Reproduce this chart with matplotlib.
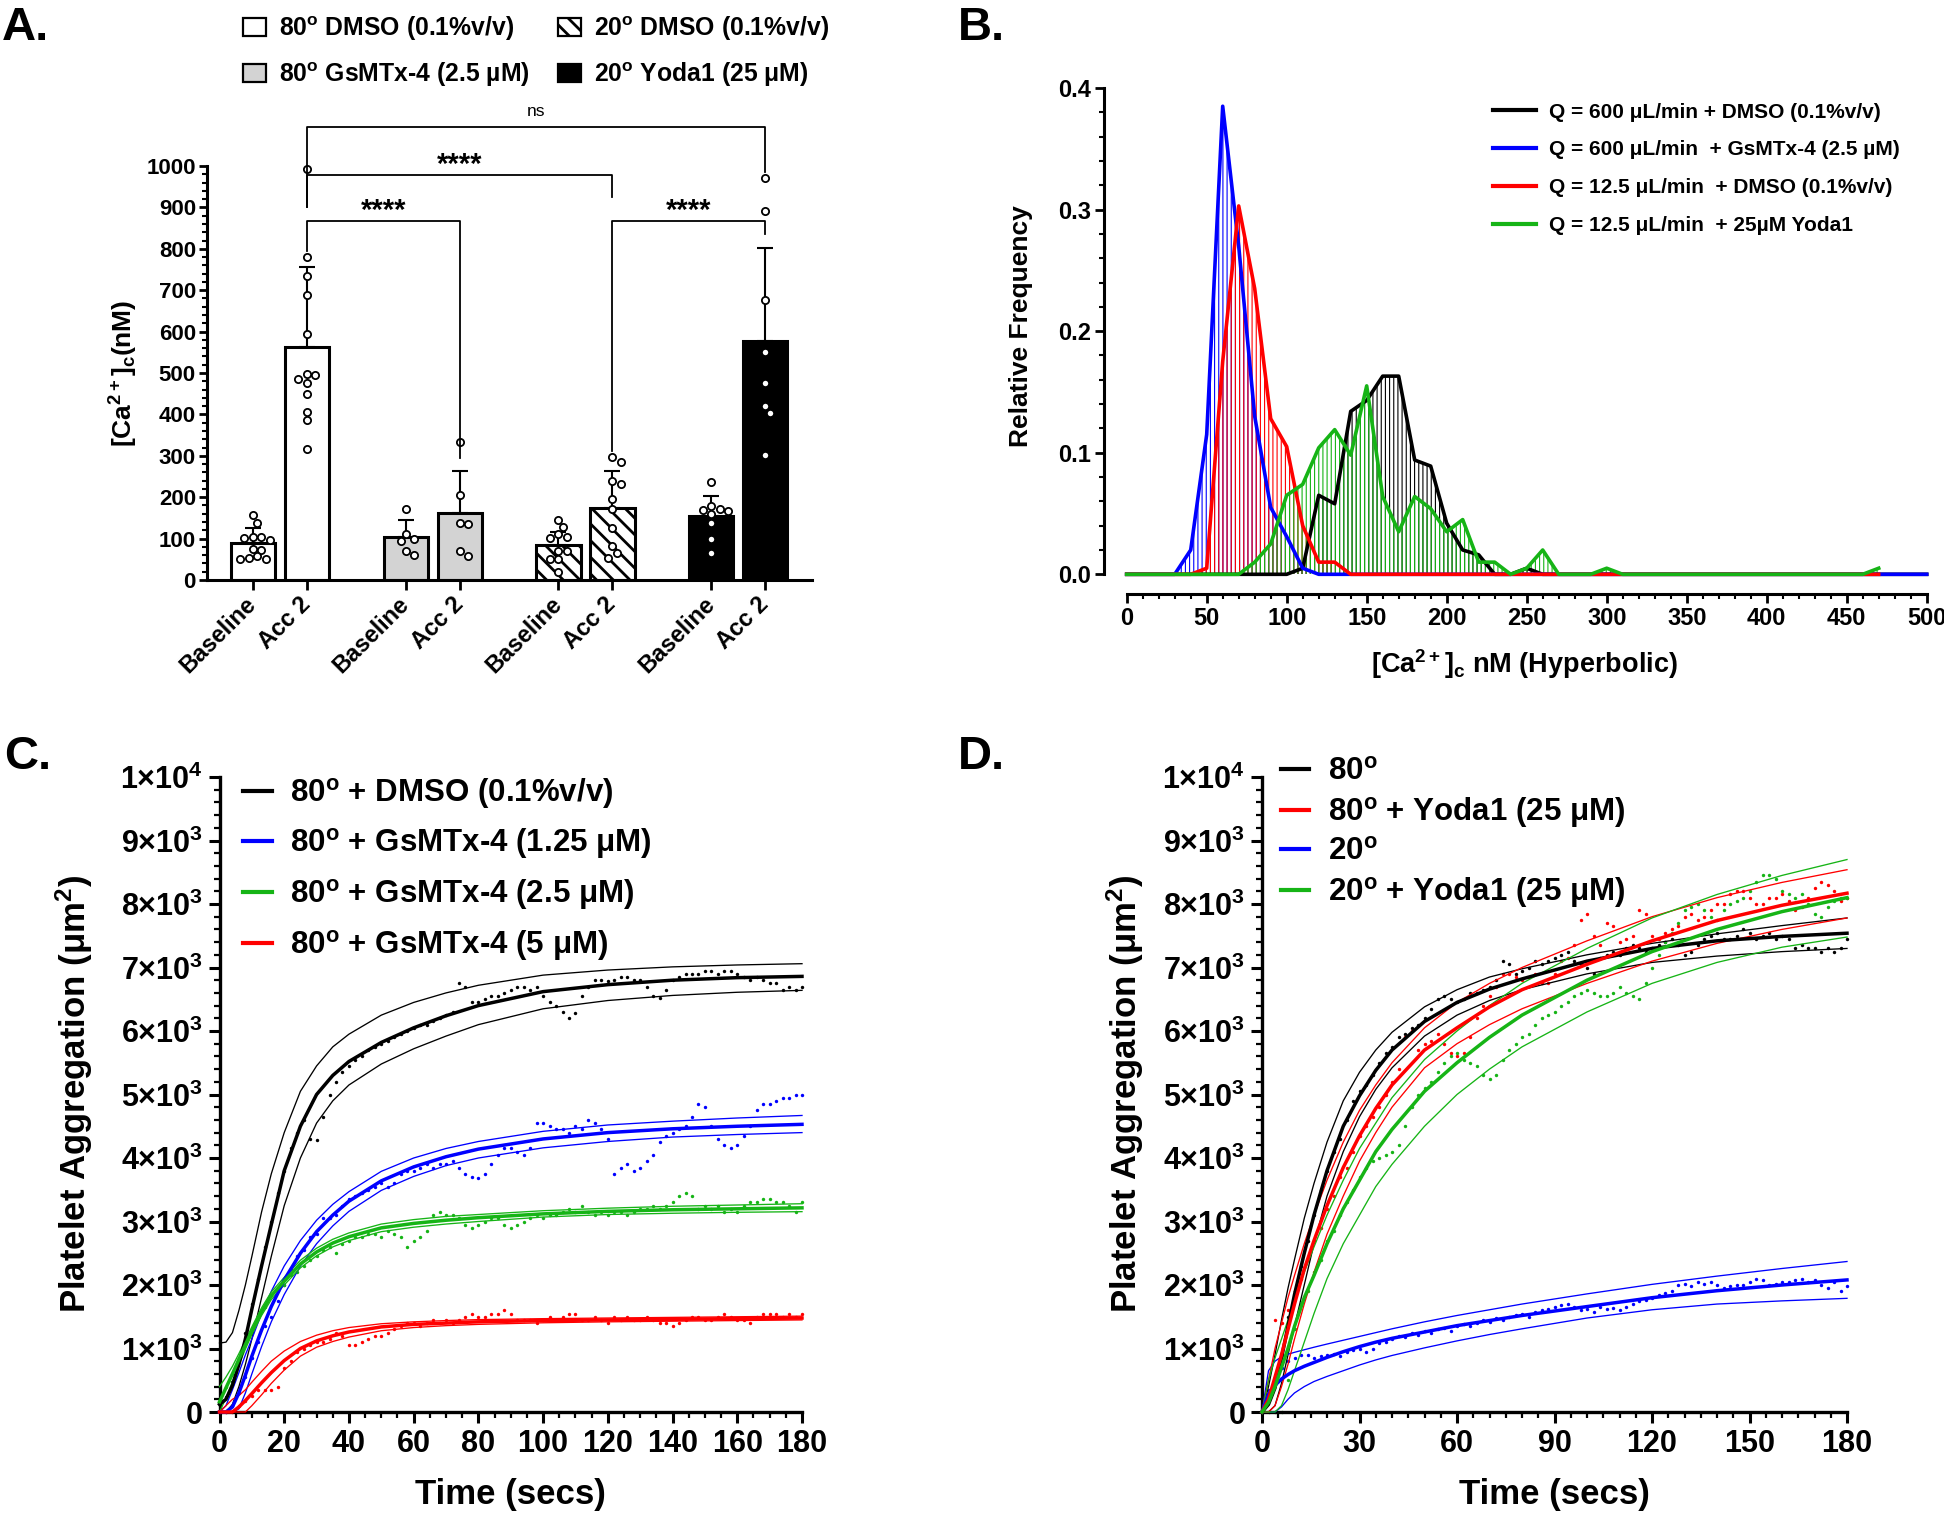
import numpy as np
import matplotlib
matplotlib.use("Agg")
import matplotlib.pyplot as plt
from matplotlib.patches import Patch
from matplotlib.lines import Line2D
from matplotlib.ticker import MultipleLocator, FuncFormatter, FormatStrFormatter

plt.rcParams["font.family"] = ["Liberation Sans", "DejaVu Sans"]
plt.rcParams["font.weight"] = "bold"
plt.rcParams["axes.labelweight"] = "bold"
plt.rcParams["mathtext.fontset"] = "custom"
plt.rcParams["mathtext.rm"] = "Liberation Sans:bold"
plt.rcParams["mathtext.bf"] = "Liberation Sans:bold"
plt.rcParams["mathtext.it"] = "Liberation Sans:bold:italic"
plt.rcParams["mathtext.default"] = "regular"

# ---------------- panel A data ----------------
conditions = ["Baseline", "Acc 2"]
bar_means = [90, 563, 103, 162, 85, 173, 155, 577]
bar_sd = [35, 192, 42, 101, 30, 91, 48, 226]
points_a = [
    [156, 138, 96, 101, 105, 105, 75, 73, 57, 51, 51, 53],
    [993, 779, 735, 688, 593, 496, 498, 486, 476, 449, 407, 387, 316],
    [172, 112, 100, 95, 60, 70],
    [334, 205, 136, 138, 59, 70],
    [146, 129, 105, 111, 102, 71, 69, 51, 51, 19],
    [298, 284, 239, 231, 195, 171, 126, 83, 66, 54],
    [236, 171, 169, 179, 167, 159, 138, 98, 66],
    [970, 891, 676, 550, 477, 420, 404, 303],
]
legend_a = ["80$^{o}$ DMSO (0.1%v/v)", "80$^{o}$ GsMTx-4 (2.5 µM)",
            "20$^{o}$ DMSO (0.1%v/v)", "20$^{o}$ Yoda1 (25 μM)"]
bracket_pairs = [(1, 7), (1, 5), (1, 3), (5, 7)]
bracket_y = [1094, 979, 867, 867]
bracket_ends = [(900, 985), (900, 925), (795, 294), (311, 835)]
bracket_text = ["ns", "****", "****", "****"]

# ---------------- panel B data ----------------
ca_bins = list(range(0, 510, 10))
freq_black = [0, 0, 0, 0, 0, 0, 0, 0, 0, 0, 0, 0.005, 0.065, 0.058, 0.134, 0.143,
              0.163, 0.163, 0.094, 0.089, 0.042, 0.020, 0.016, 0, 0, 0.005, 0,
              0, 0, 0, 0, 0, 0, 0, 0, 0, 0, 0, 0, 0, 0, 0, 0, 0, 0, 0, 0, 0, 0, 0, 0]
freq_blue = [0, 0, 0, 0, 0.020, 0.115, 0.385, 0.270, 0.130, 0.055, 0.031, 0.005, 0,
             0, 0, 0, 0, 0, 0, 0, 0, 0, 0, 0, 0, 0, 0, 0, 0, 0, 0, 0, 0, 0, 0, 0,
             0, 0, 0, 0, 0, 0, 0, 0, 0, 0, 0, 0, 0, 0, 0]
freq_red = [0, 0, 0, 0, 0, 0.005, 0.175, 0.303, 0.235, 0.128, 0.105, 0.040, 0.010,
            0.010, 0, 0, 0, 0, 0, 0, 0, 0, 0, 0, 0, 0, 0, 0, 0, 0, 0, 0, 0, 0, 0,
            0, 0, 0, 0, 0, 0, 0, 0, 0, 0, 0, 0, 0]
freq_green = [0, 0, 0, 0, 0, 0, 0, 0, 0.010, 0.025, 0.065, 0.074, 0.104, 0.119, 0.098,
              0.155, 0.064, 0.035, 0.064, 0.054, 0.035, 0.045, 0.010, 0.010, 0, 0.005,
              0.020, 0, 0, 0, 0.005, 0, 0, 0, 0, 0, 0, 0, 0, 0, 0, 0, 0, 0, 0, 0, 0, 0.005]
legend_b = ["Q = 600 μL/min + DMSO (0.1%v/v)", "Q = 600 μL/min  + GsMTx-4 (2.5 µM)",
            "Q = 12.5 μL/min  + DMSO (0.1%v/v)", "Q = 12.5 μL/min  + 25µM Yoda1"]

# ---------------- panels C / D data ----------------
TS = np.arange(0, 181, 2)
TF = [0, 2, 4, 6, 8, 10, 13, 16, 20, 25, 30, 35, 40, 50, 60, 70, 80, 100, 120, 140, 160, 180]

c_pts_black = [120, 230, 480, 850, 1250, 1700, 2100, 2600, 3000, 3450,
               3800, 4150, 4400, 4600, 4300, 4280, 4650, 5000, 5200, 5350,
               5450, 5550, 5600, 5700, 5750, 5800, 5850, 5900, 5950, 6000,
               6050, 6100, 6100, 6150, 6200, 6250, 6300, 6750, 6700, 6450,
               6450, 6500, 6550, 6550, 6600, 6650, 6700, 6700, 6650, 6700,
               6550, 6450, 6400, 6300, 6200, 6280, 6550, 6700, 6800, 6800,
               6780, 6800, 6850, 6850, 6800, 6800, 6700, 6550, 6520, 6650,
               6800, 6850, 6900, 6900, 6900, 6950, 6950, 6900, 6950, 6950,
               6900, 6850, 6800, 6850, 6800, 6750, 6750, 6650, 6700, 6650, 6700]
c_pts_blue = [0, 0, 100, 300, 550, 850, 1100, 1350, 1500, 1750,
              2000, 2250, 2450, 2550, 2750, 2800, 3050, 3050, 3100, 3250,
              3350, 3400, 3450, 3500, 3550, 3600, 3550, 3600, 3750, 3800,
              3800, 3850, 3900, 3850, 3900, 3900, 3950, 3850, 3750, 3700,
              3680, 3750, 3900, 4050, 4150, 4150, 4100, 4050, 4150, 4550,
              4550, 4500, 4450, 4450, 4400, 4500, 4450, 4600, 4550, 4450,
              4300, 3750, 3850, 3900, 3800, 3850, 3950, 4050, 4250, 4350,
              4400, 4450, 4500, 4650, 4850, 4800, 4500, 4300, 4200, 4150,
              4200, 4350, 4500, 4750, 4850, 4850, 4900, 4950, 4950, 5000, 5000]
c_pts_green = [200, 400, 600, 850, 1100, 1250, 1500, 1650, 1850, 1900,
               2000, 2150, 2200, 2300, 2400, 2450, 2550, 2600, 2500, 2650,
               2700, 2750, 2750, 2800, 2800, 2750, 2850, 2800, 2750, 2600,
               2700, 2750, 2850, 3100, 3150, 3100, 3100, 3050, 2950, 2900,
               2950, 3000, 3050, 3050, 2950, 2900, 2950, 3000, 3050, 3100,
               3050, 3100, 3100, 3150, 3200, 3150, 3250, 3150, 3100, 3150,
               3100, 3150, 3150, 3100, 3150, 3200, 3200, 3250, 3200, 3250,
               3300, 3400, 3450, 3400, 3200, 3250, 3200, 3250, 3150, 3200,
               3150, 3250, 3300, 3300, 3350, 3350, 3300, 3300, 3250, 3150, 3300]
c_pts_red = [0, 0, 0, 100, 180, 250, 350, 350, 350, 400,
             700, 800, 950, 1000, 1050, 1100, 1100, 1150, 1250, 1200,
             1050, 1050, 1100, 1150, 1200, 1200, 1250, 1300, 1350, 1400,
             1400, 1350, 1400, 1450, 1400, 1450, 1400, 1450, 1500, 1550,
             1500, 1500, 1550, 1550, 1600, 1550, 1450, 1450, 1450, 1400,
             1450, 1500, 1450, 1500, 1550, 1550, 1450, 1450, 1500, 1450,
             1400, 1500, 1450, 1500, 1450, 1450, 1500, 1450, 1400, 1400,
             1350, 1400, 1450, 1500, 1500, 1450, 1450, 1500, 1550, 1500,
             1450, 1450, 1400, 1500, 1550, 1550, 1550, 1500, 1550, 1500, 1550]

c_fit_black = [120, 200, 420, 750, 1150, 1620, 2300, 2950, 3800, 4500, 5000, 5300, 5520, 5820, 6050, 6240, 6400, 6620, 6730, 6800, 6840, 6860]
c_up_black = [1085, 1100, 1250, 1600, 2000, 2450, 3150, 3750, 4400, 5050, 5450, 5750, 5950, 6250, 6450, 6600, 6720, 6880, 6960, 7010, 7040, 7060]
c_lo_black = [0, 0, 120, 400, 750, 1150, 1800, 2450, 3250, 4000, 4550, 4900, 5150, 5480, 5720, 5920, 6100, 6350, 6480, 6560, 6610, 6640]
c_fit_blue = [0, 0, 80, 300, 580, 880, 1290, 1660, 2080, 2500, 2840, 3100, 3320, 3640, 3860, 4020, 4140, 4300, 4400, 4460, 4500, 4530]
c_up_blue = [0, 100, 350, 620, 900, 1150, 1550, 1900, 2300, 2700, 3020, 3270, 3470, 3790, 4000, 4150, 4260, 4420, 4520, 4580, 4630, 4670]
c_lo_blue = [0, 0, 0, 50, 300, 600, 1030, 1420, 1850, 2300, 2650, 2930, 3160, 3490, 3710, 3880, 4000, 4160, 4260, 4330, 4370, 4400]
c_fit_green = [160, 380, 600, 830, 1060, 1280, 1580, 1830, 2060, 2330, 2520, 2660, 2760, 2900, 2970, 3020, 3060, 3120, 3160, 3185, 3200, 3215]
c_up_green = [400, 550, 720, 920, 1130, 1340, 1640, 1890, 2120, 2390, 2580, 2720, 2820, 2960, 3030, 3080, 3110, 3170, 3210, 3240, 3260, 3280]
c_lo_green = [0, 220, 480, 740, 990, 1220, 1520, 1770, 2000, 2270, 2460, 2600, 2700, 2840, 2910, 2960, 3000, 3070, 3110, 3130, 3145, 3155]
c_fit_red = [0, 0, 0, 80, 180, 290, 460, 620, 810, 1000, 1120, 1200, 1260, 1340, 1380, 1400, 1420, 1440, 1450, 1460, 1470, 1480]
c_up_red = [0, 100, 200, 260, 350, 470, 640, 800, 960, 1110, 1210, 1280, 1330, 1390, 1420, 1440, 1455, 1470, 1480, 1490, 1500, 1510]
c_lo_red = [0, 0, 0, 0, 0, 100, 270, 450, 660, 880, 1020, 1110, 1180, 1280, 1330, 1360, 1380, 1405, 1420, 1430, 1440, 1450]

d_pts_black = [0, 200, 500, 900, 1500, 1900, 2300, 2700, 3100, 3500,
               3800, 4100, 4300, 4600, 4900, 5050, 5150, 5300, 5500, 5650,
               5750, 5900, 5950, 6050, 6100, 6200, 6350, 6500, 6550, 6500,
               6450, 6500, 6600, 6600, 6650, 6700, 6800, 7100, 7050, 6900,
               6950, 7000, 7100, 7050, 7100, 7150, 7200, 7250, 7100, 7050,
               7000, 6900, 7150, 7200, 7250, 7200, 7300, 7350, 7300, 7250,
               7300, 7350, 7400, 7450, 7350, 7200, 7250, 7350, 7450, 7500,
               7550, 7450, 7450, 7500, 7600, 7550, 7450, 7500, 7550, 7450,
               7500, 7450, 7300, 7350, 7300, 7300, 7250, 7300, 7250, 7300, 7450]
d_pts_red = [0, 300, 1450, 1400, 1600, 1900, 2100, 2400, 2700, 2900,
             3200, 3400, 3700, 3850, 4100, 4350, 4500, 4650, 4800, 5000,
             5200, 5400, 5900, 6000, 5700, 5800, 5850, 5950, 5800, 5650,
             5600, 5650, 5900, 6200, 6400, 6550, 6700, 6900, 6900, 6850,
             6800, 6850, 6900, 6750, 6750, 6900, 7100, 7150, 7350, 7750,
             7850, 7500, 7350, 7700, 7650, 7400, 7450, 7500, 7900, 7850,
             7500, 7450, 7550, 7600, 7650, 7800, 7850, 7750, 7800, 7900,
             8000, 8000, 8150, 8200, 8200, 8100, 8000, 8000, 8100, 8100,
             8150, 8050, 7900, 7950, 8100, 8250, 8350, 8300, 8200, 8050, 8100]
d_pts_blue = [0, 350, 500, 700, 800, 850, 900, 900, 850, 880,
              900, 920, 880, 950, 980, 1000, 950, 1000, 1080, 1100,
              1150, 1200, 1180, 1250, 1220, 1280, 1250, 1300, 1320, 1280,
              1350, 1380, 1350, 1400, 1450, 1420, 1480, 1450, 1500, 1520,
              1550, 1500, 1580, 1600, 1620, 1650, 1680, 1700, 1650, 1600,
              1620, 1580, 1650, 1620, 1640, 1600, 1650, 1700, 1750, 1760,
              1800, 1850, 1880, 1900, 2000, 2020, 1980, 2050, 2020, 2050,
              2000, 1950, 1980, 2000, 2000, 2050, 2100, 2080, 2000, 2020,
              2050, 2050, 2080, 2100, 2050, 2080, 2000, 1950, 2050, 1900, 1980]
d_pts_green = [0, 0, 0, 0, 500, 1300, 1700, 1900, 2200, 2400,
               2700, 2850, 3100, 3300, 3500, 3700, 3850, 3950, 4000, 4050,
               4100, 4200, 4500, 4800, 5000, 5100, 5200, 5350, 5500, 5600,
               5650, 5550, 5500, 5450, 5300, 5250, 5300, 5550, 5700, 5800,
               5900, 5950, 6100, 6200, 6250, 6300, 6400, 6450, 6550, 6600,
               6650, 6600, 6550, 6550, 6600, 6700, 6600, 6550, 6500, 6750,
               7000, 7200, 7400, 7550, 7700, 7900, 7950, 8000, 7900, 7800,
               7750, 7900, 8000, 8050, 8100, 8200, 8350, 8450, 8450, 8400,
               8200, 8150, 8100, 8150, 8000, 7850, 7800, 7950, 8050, 8100, 8100]

d_fit_black = [0, 120, 380, 850, 1350, 1850, 2500, 3100, 3800, 4500, 4980, 5380, 5700, 6150, 6450, 6660, 6820, 7100, 7300, 7420, 7490, 7540]
d_up_black = [0, 400, 900, 1450, 1950, 2400, 3050, 3600, 4250, 4900, 5350, 5700, 5980, 6380, 6650, 6850, 6980, 7200, 7380, 7530, 7660, 7780]
d_lo_black = [0, 0, 100, 450, 900, 1350, 2000, 2650, 3400, 4100, 4650, 5080, 5420, 5920, 6250, 6480, 6650, 6900, 7080, 7180, 7250, 7300]
d_fit_red = [0, 200, 550, 900, 1300, 1700, 2250, 2700, 3250, 3850, 4350, 4780, 5150, 5700, 6050, 6380, 6650, 7050, 7420, 7740, 7980, 8170]
d_up_red = [0, 500, 1000, 1400, 1800, 2150, 2650, 3100, 3650, 4250, 4750, 5150, 5500, 6050, 6450, 6750, 7000, 7420, 7800, 8100, 8340, 8540]
d_lo_red = [0, 0, 100, 400, 750, 1150, 1700, 2200, 2800, 3400, 3950, 4400, 4800, 5420, 5800, 6100, 6350, 6750, 7100, 7380, 7600, 7780]
d_fit_green = [0, 150, 400, 700, 1000, 1350, 1800, 2150, 2650, 3200, 3650, 4100, 4450, 5050, 5500, 5900, 6250, 6800, 7250, 7600, 7880, 8100]
d_up_green = [0, 500, 850, 1150, 1450, 1750, 2200, 2600, 3100, 3650, 4150, 4550, 4950, 5550, 6000, 6400, 6750, 7300, 7780, 8150, 8450, 8700]
d_lo_green = [0, 0, 0, 100, 350, 650, 1100, 1550, 2100, 2650, 3100, 3550, 3900, 4500, 5000, 5400, 5750, 6300, 6750, 7080, 7320, 7480]
d_fit_blue = [0, 280, 420, 520, 590, 650, 720, 780, 860, 950, 1030, 1100, 1160, 1260, 1360, 1440, 1520, 1660, 1800, 1910, 2000, 2080]
d_up_blue = [0, 650, 800, 870, 910, 940, 980, 1020, 1070, 1130, 1190, 1250, 1310, 1420, 1520, 1610, 1700, 1860, 2010, 2140, 2260, 2370]
d_lo_blue = [0, 0, 0, 80, 200, 300, 400, 480, 560, 650, 740, 820, 890, 1010, 1120, 1220, 1310, 1480, 1610, 1700, 1750, 1790]

legend_c = ["80$^{o}$ + DMSO (0.1%v/v)", "80$^{o}$ + GsMTx-4 (1.25 μM)",
            "80$^{o}$ + GsMTx-4 (2.5 μM)", "80$^{o}$ + GsMTx-4 (5 μM)"]
legend_d = ["80$^{o}$", "80$^{o}$ + Yoda1 (25 μM)", "20$^{o}$", "20$^{o}$ + Yoda1 (25 μM)"]

BLACK, BLUE, RED, GREEN = "#000000", "#0000ff", "#ff0000", "#16b416"

# ---------------- figure ----------------
W, H = 1944, 1523
fig = plt.figure(figsize=(W / 100, H / 100), dpi=100)


def box(l, r, t, b):
    return [l / W, 1 - b / H, (r - l) / W, (b - t) / H]


def hatch_lw(artist, lw):
    if hasattr(artist, "set_hatch_linewidth"):
        artist.set_hatch_linewidth(lw)


def swarm(vals, ux=54.0, uy=0.414, diam=7.8):
    order = np.argsort(vals)[::-1]
    placed, offs = [], np.zeros(len(vals))
    for i in order:
        y = vals[i] * uy
        k = 0
        while True:
            cands = [0.0] if k == 0 else [k * diam * 0.55, -k * diam * 0.55]
            ok = None
            for c in cands:
                if all((c - px) ** 2 + (y - py) ** 2 >= diam ** 2 for px, py in placed):
                    ok = c
                    break
            if ok is not None:
                break
            k += 1
        placed.append((ok, y))
        offs[i] = ok / ux
    return offs


# ================= A =================
axA = fig.add_axes(box(207, 811.7, 166, 580))
pos = [g * 2.83 + c for g in range(4) for c in range(2)]
faces = ["white", "white", "#d3d3d3", "#d3d3d3", "white", "white", "black", "black"]
hatches = [None, None, None, None, "\\\\", "\\\\", None, None]
plt.rcParams["hatch.linewidth"] = 2.0
for i in range(8):
    bars = axA.bar(pos[i], bar_means[i], width=0.82, color=faces[i], edgecolor="black",
                   linewidth=2.2, hatch=hatches[i], zorder=2)
    for b in bars:
        hatch_lw(b, 2.0)
    axA.errorbar(pos[i], bar_means[i], yerr=[[0], [bar_sd[i]]], fmt="none", ecolor="black",
                 elinewidth=1.5, capsize=6, capthick=1.5, zorder=3)
    v = np.array(points_a[i], dtype=float)
    axA.plot(pos[i] + swarm(v), v, "o", ms=5.2, mfc="white", mec="black", mew=1.3,
             zorder=4, clip_on=False)

for (i1, i2), y, (e1, e2), txt in zip(bracket_pairs, bracket_y, bracket_ends, bracket_text):
    x1, x2 = pos[i1], pos[i2]
    axA.plot([x1, x1, x2, x2], [e1, y, y, e2], color="black", lw=1.3, clip_on=False, zorder=5)
    if txt == "ns":
        axA.text((x1 + x2) / 2, y + 26, txt, ha="center", va="baseline", fontsize=12.5,
                 fontweight="normal")
    else:
        axA.text((x1 + x2) / 2, y + 4, txt, ha="center", va="baseline", fontsize=21)

axA.set_xlim(-0.85, 10.35)
axA.set_ylim(0, 1000)
axA.yaxis.set_major_locator(MultipleLocator(100))
axA.yaxis.set_minor_locator(MultipleLocator(20))
axA.set_xticks(pos)
axA.set_xticklabels(conditions * 4, rotation=45, ha="right", va="center", rotation_mode="anchor")
for s in ["top", "right"]:
    axA.spines[s].set_visible(False)
for s in ["left", "bottom"]:
    axA.spines[s].set_linewidth(2.2)
axA.tick_params(axis="y", which="major", length=6, width=2, labelsize=16, pad=2)
axA.tick_params(axis="y", which="minor", length=3.5, width=1.5)
axA.tick_params(axis="x", which="major", length=7, width=2, labelsize=17, pad=8)
axA.set_ylabel("[Ca$^{2+}$]$_{c}$(nM)", fontsize=19)
axA.yaxis.set_label_coords(-0.111, 0.5)

hA = [Patch(facecolor="white", edgecolor="black", lw=1.6),
      Patch(facecolor="#d3d3d3", edgecolor="black", lw=1.6),
      Patch(facecolor="white", edgecolor="black", lw=1.6, hatch="\\\\"),
      Patch(facecolor="black", edgecolor="black", lw=1.6)]
fig.legend(hA, legend_a, loc="upper left", bbox_to_anchor=(243 / W, 1 - 14 / H), ncol=2,
           frameon=False, fontsize=17.8, handlelength=0.93, handleheight=0.7,
           handletextpad=0.53, columnspacing=1.15, labelspacing=0.7, borderpad=0,
           borderaxespad=0)

# ================= B =================
axB = fig.add_axes(box(1126.7, 1926.7, 88, 574.3))
plt.rcParams["hatch.linewidth"] = 0.8
for vals, col in zip([freq_black, freq_blue, freq_red, freq_green], [BLACK, BLUE, RED, GREEN]):
    xs = ca_bins[:len(vals)]
    fb = axB.fill_between(xs, 0, vals, facecolor="none", edgecolor=col, hatch="||||",
                          linewidth=0, zorder=1)
    hatch_lw(fb, 0.8)
    axB.plot(xs, vals, color=col, lw=2.6, clip_on=False, zorder=3)
axB.set_xlim(0, 500)
axB.set_ylim(0, 0.4)
axB.xaxis.set_major_locator(MultipleLocator(50))
axB.xaxis.set_minor_locator(MultipleLocator(10))
axB.yaxis.set_major_locator(MultipleLocator(0.1))
axB.yaxis.set_minor_locator(MultipleLocator(0.02))
axB.yaxis.set_major_formatter(FormatStrFormatter("%.1f"))
for s in ["top", "right"]:
    axB.spines[s].set_visible(False)
axB.spines["left"].set_position(("outward", 16))
axB.spines["bottom"].set_position(("outward", 14))
for s in ["left", "bottom"]:
    axB.spines[s].set_linewidth(2.2)
axB.tick_params(which="major", length=6.5, width=2, labelsize=17, pad=3)
axB.tick_params(which="minor", length=3.5, width=1.5)
axB.set_xlabel("[Ca$^{2+}$]$_{c}$ nM (Hyperbolic)", fontsize=19.5)
axB.xaxis.set_label_coords(0.497, -0.15)
axB.set_ylabel("Relative Frequency", fontsize=19)
axB.yaxis.set_label_coords(-0.117, 0.51)
hB = [Line2D([], [], color=c, lw=3) for c in [BLACK, BLUE, RED, GREEN]]
axB.legend(hB, legend_b, loc="upper left", bbox_to_anchor=(0.4576, 0.97), frameon=False,
           fontsize=15, handlelength=2.07, handletextpad=0.63, labelspacing=0.9,
           borderpad=0, borderaxespad=0)


# ================= C / D =================
def sci_label(v, p):
    if v == 0:
        return "0"
    if v >= 10000:
        return "1×10$^{4}$"
    return "%d×10$^{3}$" % round(v / 1000)


def growth_axes(ax, series, xmajor, labels, colors, lx, ly, lspace, ylab_x):
    for pts, fit, up, lo, col in series:
        ax.scatter(TS, pts, s=6, color=col, linewidths=0, zorder=2, clip_on=False)
        ax.plot(TF, up, color=col, lw=0.95, zorder=3, clip_on=False)
        ax.plot(TF, lo, color=col, lw=0.95, zorder=3, clip_on=False)
        ax.plot(TF, fit, color=col, lw=2.5, zorder=4, clip_on=False)
    ax.set_xlim(0, 180)
    ax.set_ylim(0, 10000)
    ax.xaxis.set_major_locator(MultipleLocator(xmajor))
    ax.xaxis.set_minor_locator(MultipleLocator(5))
    ax.yaxis.set_major_locator(MultipleLocator(1000))
    ax.yaxis.set_minor_locator(MultipleLocator(200))
    ax.yaxis.set_major_formatter(FuncFormatter(sci_label))
    for s in ["top", "right"]:
        ax.spines[s].set_visible(False)
    for s in ["left", "bottom"]:
        ax.spines[s].set_linewidth(2.4)
    ax.tick_params(which="major", length=8, width=2.2, labelsize=22, pad=4)
    ax.tick_params(which="minor", length=4.5, width=1.6)
    ax.set_xlabel("Time (secs)", fontsize=25)
    ax.xaxis.set_label_coords(0.5, -0.104)
    ax.set_ylabel("Platelet Aggregation (μm$^{2}$)", fontsize=25)
    ax.yaxis.set_label_coords(ylab_x, 0.5)
    hh = [Line2D([], [], color=c, lw=3) for c in colors]
    ax.legend(hh, labels, loc="upper left", bbox_to_anchor=(lx, ly), frameon=False,
              fontsize=22.5, handlelength=0.9, handletextpad=0.6, labelspacing=lspace,
              borderpad=0, borderaxespad=0)


axC = fig.add_axes(box(219.5, 802, 777, 1412))
growth_axes(axC,
            [(c_pts_black, c_fit_black, c_up_black, c_lo_black, BLACK),
             (c_pts_blue, c_fit_blue, c_up_blue, c_lo_blue, BLUE),
             (c_pts_green, c_fit_green, c_up_green, c_lo_green, GREEN),
             (c_pts_red, c_fit_red, c_up_red, c_lo_red, RED)],
            20, legend_c, [BLACK, BLUE, GREEN, RED], 0.041, 1.002, 0.5, -0.2137)

axD = fig.add_axes(box(1262, 1847, 777, 1412))
growth_axes(axD,
            [(d_pts_black, d_fit_black, d_up_black, d_lo_black, BLACK),
             (d_pts_blue, d_fit_blue, d_up_blue, d_lo_blue, BLUE),
             (d_pts_red, d_fit_red, d_up_red, d_lo_red, RED),
             (d_pts_green, d_fit_green, d_up_green, d_lo_green, GREEN)],
            30, legend_d, [BLACK, RED, BLUE, GREEN], 0.0325, 1.031, 0.24, -0.198)

# panel letters
for txt, x, yb in [("A.", 2, 40), ("B.", 958, 40), ("C.", 4, 769), ("D.", 958, 769)]:
    fig.text(x / W, 1 - yb / H, txt, fontsize=34, ha="left", va="baseline")

fig.savefig("out.png", dpi=100)
